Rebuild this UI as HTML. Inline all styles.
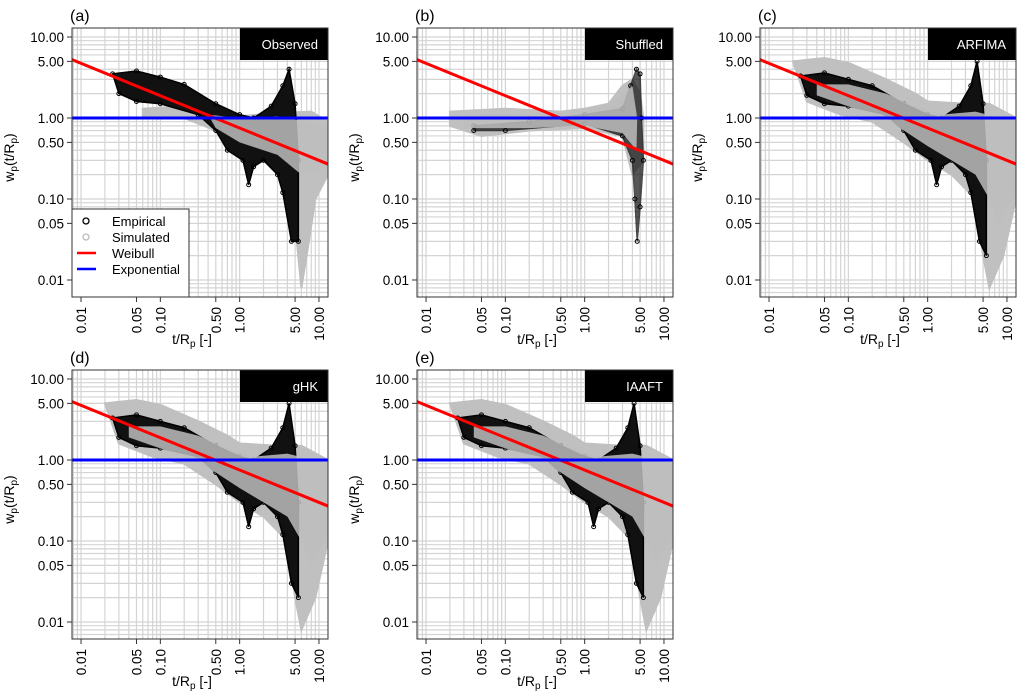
<!DOCTYPE html>
<html><head><meta charset="utf-8">
<style>
body{margin:0;background:#fff;font-family:"Liberation Sans",sans-serif;}
svg{display:block}
</style></head>
<body>
<svg id="fig" width="1024" height="700" xmlns="http://www.w3.org/2000/svg"></svg>
<script>
const xTicks=[0.01,0.05,0.1,0.5,1,5,10];
const xTickLabels=["0.01","0.05","0.10","0.50","1.00","5.00","10.00"];
const yTicks=[10,5,1,0.5,0.1,0.05,0.01];
const yTickLabels=["10.00","5.00","1.00","0.50","0.10","0.05","0.01"];
const panelLetters=["(a)","(b)","(c)","(d)","(e)"];
const panelTitles=["Observed","Shuffled","ARFIMA","gHK","IAAFT"];
const weibullEnds=[[0.0075,5.3],[13,0.27]];
const exponentialValue=1;
const empObserved=[[0.025,3.5],[0.05,3.8],[0.1,3.2],[0.2,2.6],[0.5,1.5],[1,1.1],[1.5,1.0],[2.5,1.4],[3.5,2.5],[4.2,4],[5,1.5],[5.5,0.3],[5.5,0.03],[4.5,0.03],[3.5,0.12],[3,0.2],[2,0.3],[1.5,0.25],[1.3,0.15],[1.1,0.3],[0.7,0.4],[0.5,0.7],[0.3,1.1],[0.1,1.5],[0.05,1.6],[0.03,2]];
const simObserved=[[0.06,1.3],[0.2,1.4],[0.5,1.2],[1,1.05],[3,1.15],[8,1.2],[13,0.9],[13,0.2],[9,0.1],[7,0.02],[6,0.008],[5,0.05],[4,0.15],[3,0.3],[1,0.45],[0.5,0.7],[0.2,1],[0.06,1]];
const simObservedTop=[[0.4,1.1],[1,1.0],[3,1.05],[13,0.8],[13,0.25],[6,0.2],[3,0.35],[1,0.5],[0.5,0.75]];
const empShuffled=[[0.04,0.8],[0.2,0.9],[1,1.1],[3,1.3],[3.8,2.5],[4.5,4],[5,3.5],[5.2,1],[5.5,0.3],[5,0.08],[4.6,0.03],[4.3,0.1],[4,0.3],[3,0.6],[1,0.85],[0.1,0.7],[0.04,0.7]];
const simShuffled=[[0.02,1.2],[0.1,1.3],[0.5,1.2],[1,1.3],[2,1.5],[3,2.5],[4,3],[5,2],[5.5,1],[5.5,0.3],[4,0.2],[3,0.6],[1,0.75],[0.2,0.7],[0.05,0.6],[0.02,0.8]];
const simShuffledTop=[[0.03,1.1],[0.5,1.15],[2,1.4],[4,2.5],[4.6,1],[4.5,0.4],[3,0.65],[1,0.8],[0.2,0.75],[0.03,0.75]];
const empModel=[[0.025,3.3],[0.05,3.6],[0.1,3],[0.2,2.5],[0.5,1.5],[1,1.1],[1.5,1.0],[2.5,1.4],[3.5,2.5],[4.2,5],[5,1.5],[5.5,0.3],[5.5,0.02],[4.5,0.03],[3.5,0.12],[3,0.2],[2,0.3],[1.5,0.25],[1.3,0.15],[1.1,0.3],[0.7,0.4],[0.5,0.7],[0.3,1.1],[0.1,1.4],[0.05,1.5],[0.03,1.9]];
const simModel=[[0.02,5],[0.05,5.5],[0.1,4.8],[0.3,3],[0.7,2],[1,1.6],[3,1.5],[6,1.5],[13,1],[13,0.1],[9,0.02],[6,0.008],[5,0.02],[4,0.1],[2,0.2],[1,0.3],[0.5,0.5],[0.2,0.9],[0.08,1.1],[0.03,1.6]];
const simModelTop=[[0.04,2.6],[0.1,2.6],[0.3,2],[0.7,1.4],[1.5,1.1],[4,1.2],[13,0.9],[13,0.12],[8,0.05],[6,0.1],[4,0.2],[2,0.3],[1,0.45],[0.5,0.7],[0.2,1.1],[0.08,1.5],[0.04,1.9]];
const empSets=[empObserved,empShuffled,empModel,empModel,empModel];
const simSets=[simObserved,simShuffled,simModel,simModel,simModel];
const simTopSets=[simObservedTop,simShuffledTop,simModelTop,simModelTop,simModelTop];
const panelOrigins=[[72,28],[417,28],[760,28],[72,370],[417,370]];

const NS="http://www.w3.org/2000/svg";
const fig=document.getElementById('fig');
function mk(tag,attrs,parent){const e=document.createElementNS(NS,tag);for(const k in attrs)e.setAttribute(k,attrs[k]);(parent||fig).appendChild(e);return e;}
const W=256,H=269,xL=-2.114,xR=1.114,yT=1.111,yB=-2.21;
panelOrigins.forEach((o,i)=>{
  const [ox,oy]=o;
  const sx=v=>ox+(Math.log10(v)-xL)/(xR-xL)*W;
  const sy=v=>oy+(yT-Math.log10(v))/(yT-yB)*H;
  const g=mk('g',{});
  
  
  const cp='clip'+i;
  const cl=mk('clipPath',{id:cp},g);mk('rect',{x:ox,y:oy,width:W,height:H},cl);
  const grid=mk('g',{stroke:'#d4d4d4','stroke-width':1.2},g);
  
  
  for(let d=-3;d<=1;d++)for(let m=1;m<10;m++){const v=m*Math.pow(10,d);const lv=Math.log10(v);
    if(lv>xL&&lv<xR){const x=sx(v);mk('line',{x1:x,x2:x,y1:oy,y2:oy+H},grid);}
    if(lv>yB&&lv<yT){const y=sy(v);mk('line',{x1:ox,x2:ox+W,y1:y,y2:y},grid);}}
  const dg=mk('g',{'clip-path':'url(#'+cp+')'},g);
  const sim=mk('polygon',{points:simSets[i].map(p=>sx(p[0])+','+sy(p[1])).join(' '),fill:'#c0c0c0',stroke:'#c0c0c0','stroke-width':2},dg);
  
  
  const emp=mk('polygon',{points:empSets[i].map(p=>sx(p[0])+','+sy(p[1])).join(' '),fill:'#111',stroke:'#000','stroke-width':1.5,opacity:i==1?0.7:1},dg);
  
  
  empSets[i].forEach(p=>{const c=mk('circle',{cx:sx(p[0]),cy:sy(p[1]),r:2,fill:'none',stroke:'#000','stroke-width':1},dg);
    
    });
  const simTop=mk('polygon',{points:simTopSets[i].map(p=>sx(p[0])+','+sy(p[1])).join(' '),fill:'#bdbdbd',opacity:0.85},dg);
  
  
  const wb=mk('line',{x1:sx(weibullEnds[0][0]),y1:sy(weibullEnds[0][1]),x2:sx(weibullEnds[1][0]),y2:sy(weibullEnds[1][1]),stroke:'#f00','stroke-width':3},dg);
  
  
  const ex=mk('line',{x1:ox,x2:ox+W,y1:sy(exponentialValue),y2:sy(exponentialValue),stroke:'#00f','stroke-width':3},dg);
  
  
  const tb=mk('rect',{x:ox+W-88,y:oy,width:88,height:32,fill:'#000'},g);
  
  
  const tt=mk('text',{x:ox+W-10,y:oy+21,'text-anchor':'end','font-size':13,fill:'#fff'},g);tt.textContent=panelTitles[i];
  
  
  mk('rect',{x:ox,y:oy,width:W,height:H,fill:'none',stroke:'#333','stroke-width':1},g);
  const lt=mk('text',{x:ox-2,y:oy-7,'font-size':16,fill:'#000'},g);lt.textContent=panelLetters[i];
  
  
  yTicks.forEach((v,k)=>{const y=sy(v);mk('line',{x1:ox-5,x2:ox,y1:y,y2:y,stroke:'#333'},g);
    const t=mk('text',{x:ox-8,y:y+5,'text-anchor':'end','font-size':13.5,fill:'#000'},g);t.textContent=yTickLabels[k];
    
    });
  xTicks.forEach((v,k)=>{const x=sx(v);mk('line',{x1:x,x2:x,y1:oy+H,y2:oy+H+5,stroke:'#333'},g);
    const t=mk('text',{x:0,y:0,'text-anchor':'end','font-size':13.5,fill:'#000',transform:`translate(${x+5},${oy+H+10}) rotate(-90)`},g);t.textContent=xTickLabels[k];
    
    });
  const xt=mk('text',{x:ox+W/2-8,y:oy+H+47,'text-anchor':'middle','font-size':14,fill:'#000'},g);
  xt.innerHTML='t/R<tspan font-size="10" dy="3">p</tspan><tspan dy="-3"> [-]</tspan>';
  
  
  const yt=mk('text',{x:0,y:0,'text-anchor':'middle','font-size':14,fill:'#000',transform:`translate(${ox-58},${oy+H/2-5}) rotate(-90)`},g);
  yt.innerHTML='w<tspan font-size="10" dy="3">p</tspan><tspan dy="-3">(t/R</tspan><tspan font-size="10" dy="3">p</tspan><tspan dy="-3">)</tspan>';
  
  
  if(i===0){
    const lg=mk('g',{},g);
    
    
    mk('rect',{x:ox,y:oy+181,width:117,height:88,fill:'#fff',stroke:'#333'},lg);
    const items=[['Empirical','c','#000'],['Simulated','c','#bbb'],['Weibull','l','#f00'],['Exponential','l','#00f']];
    items.forEach((it,k)=>{const y=oy+197+k*16;
      if(it[1]==='c')mk('circle',{cx:ox+14,cy:y-4,r:3,fill:'none',stroke:it[2],'stroke-width':1.3},lg);
      else mk('line',{x1:ox+5,x2:ox+24,y1:y-4,y2:y-4,stroke:it[2],'stroke-width':2.5},lg);
      const t=mk('text',{x:ox+40,y:y+1,'font-size':13,fill:'#000'},lg);t.textContent=it[0];
      
      });
  }
});
</script>
</body></html>
